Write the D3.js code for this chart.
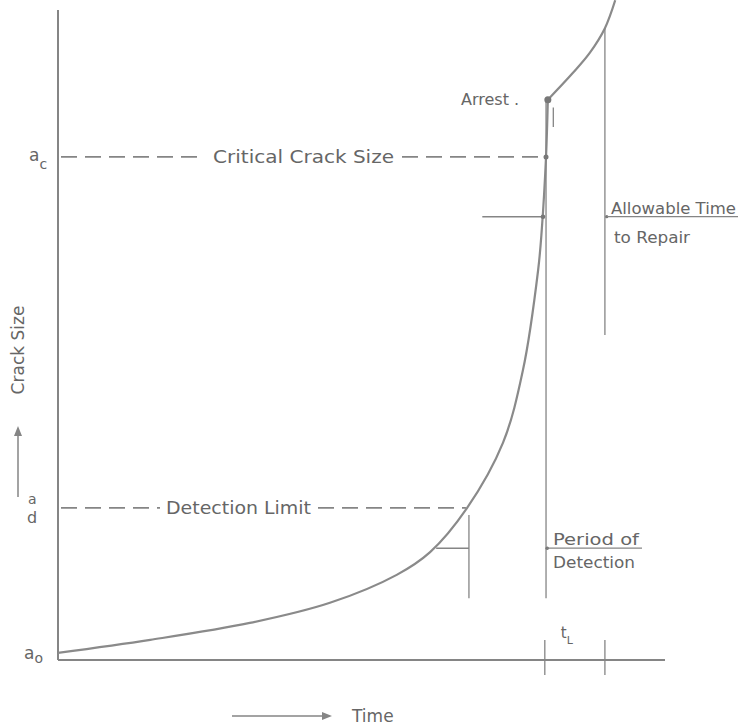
<!DOCTYPE html>
<html>
<head>
<meta charset="utf-8">
<script src="https://cdn.jsdelivr.net/npm/d3@7"></script>
<style>
  html, body { margin: 0; padding: 0; background: #fff; }
  svg { display: block; }
  text { font-family: "DejaVu Sans", sans-serif; fill: #666; }
</style>
</head>
<body>
<svg id="chart" width="741" height="725"></svg>
<script>
// ---- data (arbitrary time / crack-size units) ----
const growthTime = [0, 15.2, 31.6, 44.8, 55.8, 61.3, 67.4, 73.3, 76.6, 79.1, 79.7, 80.4, 80.7];
const growthSize = [1.1, 3.1, 5.7, 8.8, 13.1, 16.6, 23.4, 33.4, 44.6, 60.0, 66.2, 77.4, 86.2];
const arrestTime = [80.7, 84.8, 87.6, 90.1, 91.8];
const arrestSize = [86.2, 90.3, 93.4, 97.2, 101.5];
const levelNames = ["c", "d", "o"];           // a_c, a_d, a_o
const levelValues = [77.4, 23.4, 1.1];
const levelLabels = ["Critical Crack Size", "Detection Limit", ""];
const tickTimes = [80.2, 90.1];                // bounds of t_L
const detectTime = 67.7;                       // end of detection mark
const repairTime = 90.1;                       // allowable repair line

const svg = d3.select("#chart");
const x = d3.scaleLinear().domain([0, 100]).range([58, 665]);
const y = d3.scaleLinear().domain([0, 100]).range([660, 10]);
const ink = "#858585";

// axes
svg.append("line").attr("x1", x(0)).attr("x2", x(0)).attr("y1", y(100)).attr("y2", y(0))
  .attr("stroke", ink).attr("stroke-width", 2);
svg.append("line").attr("x1", x(0)).attr("x2", x(100)).attr("y1", y(0)).attr("y2", y(0))
  .attr("stroke", ink).attr("stroke-width", 2);

// t_L ticks
tickTimes.forEach(t => {
  svg.append("line").attr("x1", x(t)).attr("x2", x(t)).attr("y1", y(0) - 20).attr("y2", y(0) + 15)
    .attr("stroke", ink).attr("stroke-width", 1.3);
});
svg.append("text").attr("x", (x(tickTimes[0]) + x(tickTimes[1])) / 2 - 14).attr("y", y(0) - 22)
  .attr("font-size", 15).text("t")
  .append("tspan").attr("font-size", 11).attr("dy", 6).text("L");

// level labels on y axis
levelNames.forEach((n, i) => {
  const yy = y(levelValues[i]);
  if (n === "c") {
    const g = svg.append("text").attr("font-size", 17).attr("x", 29).attr("y", yy + 4).text("a");
    g.append("tspan").attr("font-size", 14).attr("dy", 8).text("c");
  } else if (n === "d") {
    svg.append("text").attr("x", 28).attr("y", yy - 4).attr("font-size", 14).text("a");
    svg.append("text").attr("x", 27).attr("y", yy + 15).attr("font-size", 16).text("d");
  } else {
    const g = svg.append("text").attr("font-size", 17).attr("x", 24).attr("y", yy + 6).text("a");
    g.append("tspan").attr("font-size", 14).attr("dy", 4).text("o");
  }
});

// dashed level lines with embedded labels
const dashSpec = [
  { i: 0, segs: [[x(0) + 3, 205], [402, x(80.4)]], tx: 213, tw: 181 },
  { i: 1, segs: [[x(0) + 3, 160], [318, x(67.2)]], tx: 166, tw: 145 }
];
dashSpec.forEach(d => {
  const yy = y(levelValues[d.i]);
  d.segs.forEach(s => {
    svg.append("line").attr("x1", s[0]).attr("x2", s[1]).attr("y1", yy).attr("y2", yy)
      .attr("stroke", ink).attr("stroke-width", 1.6).attr("stroke-dasharray", "16,8");
  });
  svg.append("text").attr("x", d.tx).attr("y", yy + 6).attr("font-size", 17)
    .attr("textLength", d.tw).attr("lengthAdjust", "spacingAndGlyphs").text(levelLabels[d.i]);
});

// crack growth curve
const line = d3.line().x(d => x(d[0])).y(d => y(d[1])).curve(d3.curveCatmullRom.alpha(0.5));
svg.append("path").datum(d3.zip(growthTime, growthSize)).attr("d", line)
  .attr("fill", "none").attr("stroke", "#8a8a8a").attr("stroke-width", 2.2);
svg.append("path").datum(d3.zip(arrestTime, arrestSize)).attr("d", line)
  .attr("fill", "none").attr("stroke", "#8a8a8a").attr("stroke-width", 2.2);

// period of detection vertical (at t_L start)
svg.append("line").attr("x1", x(80.4)).attr("x2", x(80.4)).attr("y1", y(86.2)).attr("y2", y(9.5))
  .attr("stroke", ink).attr("stroke-width", 1.3);
// small stroke near arrest
svg.append("line").attr("x1", x(81.6)).attr("x2", x(81.6)).attr("y1", y(85)).attr("y2", y(82))
  .attr("stroke", ink).attr("stroke-width", 1.3);

// detection bracket
svg.append("line").attr("x1", x(detectTime)).attr("x2", x(detectTime)).attr("y1", y(22.3)).attr("y2", y(9.5))
  .attr("stroke", ink).attr("stroke-width", 1.3);
svg.append("line").attr("x1", x(62.3)).attr("x2", x(detectTime)).attr("y1", y(17.2)).attr("y2", y(17.2))
  .attr("stroke", ink).attr("stroke-width", 1.5);

// allowable repair bracket
svg.append("line").attr("x1", x(repairTime)).attr("x2", x(repairTime)).attr("y1", y(97.2)).attr("y2", y(50))
  .attr("stroke", ink).attr("stroke-width", 1.3);
svg.append("line").attr("x1", x(69.9)).attr("x2", x(79.9)).attr("y1", y(68.2)).attr("y2", y(68.2))
  .attr("stroke", ink).attr("stroke-width", 1.5);

// dots
[[80.7, 86.2, 3.5], [80.4, 77.4, 2.5], [79.9, 68.2, 2.3], [80.6, 17.2, 1.8], [90.4, 68.2, 1.6]].forEach(p => {
  svg.append("circle").attr("cx", x(p[0])).attr("cy", y(p[1])).attr("r", p[2]).attr("fill", "#777");
});

// annotations
svg.append("text").attr("x", 461).attr("y", y(86.2) + 5).attr("font-size", 16).text("Arrest .");

svg.append("text").attr("x", 611).attr("y", y(68.2) - 3).attr("font-size", 15)
  .attr("textLength", 125).attr("lengthAdjust", "spacingAndGlyphs").text("Allowable Time");
svg.append("line").attr("x1", x(90.4)).attr("x2", 738).attr("y1", y(68.2)).attr("y2", y(68.2))
  .attr("stroke", ink).attr("stroke-width", 1.2);
svg.append("text").attr("x", 614).attr("y", y(68.2) + 26).attr("font-size", 16)
  .attr("textLength", 76).attr("lengthAdjust", "spacingAndGlyphs").text("to  Repair");

svg.append("text").attr("x", 553).attr("y", y(17.2) - 3).attr("font-size", 15)
  .attr("textLength", 86).attr("lengthAdjust", "spacingAndGlyphs").text("Period of");
svg.append("line").attr("x1", x(80.6)).attr("x2", 642).attr("y1", y(17.2)).attr("y2", y(17.2))
  .attr("stroke", ink).attr("stroke-width", 1.2);
svg.append("text").attr("x", 553).attr("y", y(17.2) + 20).attr("font-size", 15)
  .attr("textLength", 82).attr("lengthAdjust", "spacingAndGlyphs").text("Detection");

// y-axis title with arrow
svg.append("text").attr("transform", "translate(24,350) rotate(-90)").attr("text-anchor", "middle")
  .attr("font-size", 17).text("Crack Size");
svg.append("line").attr("x1", 18).attr("x2", 18).attr("y1", 497).attr("y2", 430)
  .attr("stroke", ink).attr("stroke-width", 1.5);
svg.append("path").attr("d", "M14,436 L18,426 L22,436 Z").attr("fill", ink);

// x-axis title with arrow
svg.append("line").attr("x1", 232).attr("x2", 328).attr("y1", 716).attr("y2", 716)
  .attr("stroke", ink).attr("stroke-width", 1.5);
svg.append("path").attr("d", "M322,712 L332,716 L322,720 Z").attr("fill", ink);
svg.append("text").attr("x", 352).attr("y", 722).attr("font-size", 17).text("Time");
</script>
</body>
</html>
